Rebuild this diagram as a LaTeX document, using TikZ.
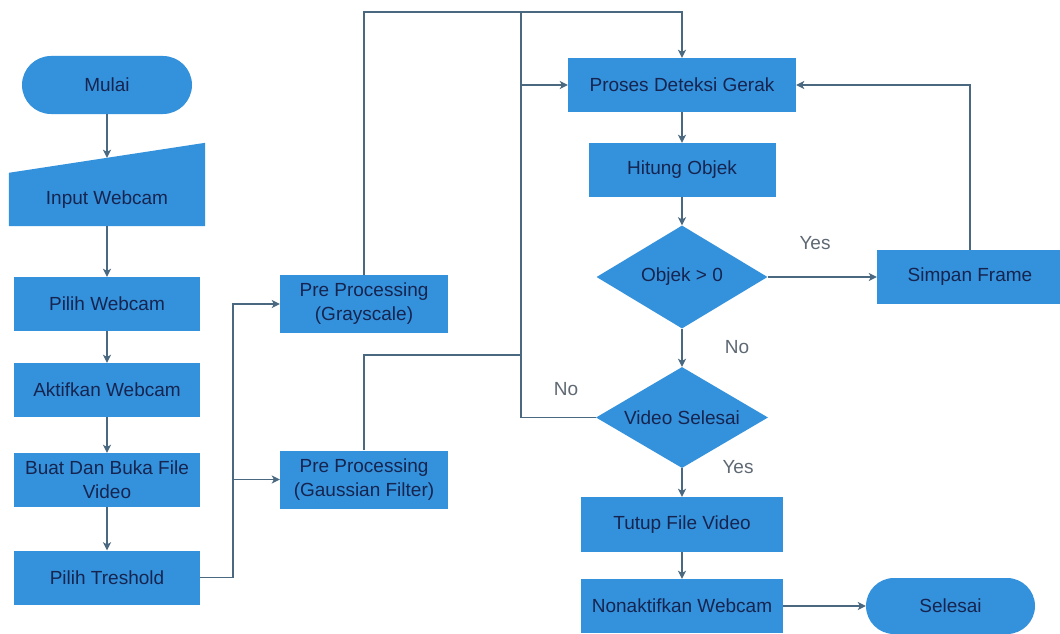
\documentclass[tikz,border=0pt]{standalone}
\usepackage{fontspec}
\setmainfont{Liberation Sans}
\usetikzlibrary{shapes.geometric,arrows.meta,calc,backgrounds}
\definecolor{boxblue}{RGB}{52,146,220}
\definecolor{txtblue}{RGB}{22,36,80}
\definecolor{linec}{RGB}{74,104,128}
\definecolor{lblc}{RGB}{95,105,115}
\begin{document}
\begin{tikzpicture}[x=1pt,y=-1pt,
  every node/.style={font=\fontsize{19}{24}\selectfont, text=txtblue},
  box/.style={rectangle, fill=boxblue, inner sep=0pt, align=center},
  term/.style={rectangle, rounded corners=29pt, fill=boxblue, inner sep=0pt, minimum width=170pt, minimum height=58pt},
  dec/.style={diamond, aspect=1.7, fill=boxblue, inner sep=0pt, align=center},
  conn/.style={draw=linec, line width=1.4pt},
  arr/.style={conn, -{Stealth[length=8pt,width=8pt,inset=2pt]}},
  lbl/.style={text=lblc}
]
\useasboundingbox (0,0) rectangle (1060,634);
% nodes
\node[term] (mulai) at (107,85) {Mulai};
\node[minimum width=196pt, minimum height=53pt, inner sep=0pt] (input) at (107,199.5) {Input Webcam};
\begin{pgfonlayer}{background}
\fill[white] (0,0) rectangle (1060,634);
\fill[boxblue] (input.south west) -- (input.south east) -- ($(input.north east)+(0,-30)$) -- (input.north west) -- cycle;
\end{pgfonlayer}
\coordinate (inTop) at ($(input.north)+(0,-15)$);
\node[box, minimum width=186pt, minimum height=54pt] (pilih) at (107,304) {Pilih Webcam};
\node[box, minimum width=186pt, minimum height=54pt] (aktif) at (107,390) {Aktifkan Webcam};
\node[box, minimum width=186pt, minimum height=54pt] (buat) at (107,480) {Buat Dan Buka File\\Video};
\node[box, minimum width=186pt, minimum height=54pt] (tresh) at (107,577.5) {Pilih Treshold};
\node[box, minimum width=168pt, minimum height=58pt] (gray) at (364,304) {Pre Processing\\(Grayscale)};
\node[box, minimum width=168pt, minimum height=58pt] (gauss) at (364,479.5) {Pre Processing\\(Gaussian Filter)};
\node[box, minimum width=228pt, minimum height=54pt] (proses) at (682,85) {Proses Deteksi Gerak};
\node[box, minimum width=187pt, minimum height=54pt] (hitung) at (682,170) {Hitung Objek};
\node[dec, minimum width=171pt, minimum height=103pt] (objek) at (682,277) {Objek > 0};
\node[box, minimum width=186pt, minimum height=54pt] (simpan) at (970,277) {Simpan Frame};
\node[dec, minimum width=172pt, minimum height=101pt] (video) at (682,417.5) {Video Selesai};
\node[box, minimum width=202pt, minimum height=55pt] (tutup) at (682,524.5) {Tutup File Video};
\node[box, minimum width=202pt, minimum height=54pt] (nonak) at (682,606) {Nonaktifkan Webcam};
\node[term, minimum width=169pt, minimum height=56pt, rounded corners=28pt] (selesai) at (950.5,606) {Selesai};
% labels
\node[lbl] (yes1) at (815,243) {Yes};
\node[lbl] (no1) at (737,347) {No};
\node[lbl] (no2) at (566,389) {No};
\node[lbl] (yes2) at (738,467) {Yes};
% connectors
\draw[arr] (mulai.south) -- (inTop);
\draw[arr] (input.south) -- (pilih.north);
\draw[arr] (pilih.south) -- (aktif.north);
\draw[arr] (aktif.south) -- (buat.north);
\draw[arr] (buat.south) -- (tresh.north);
\coordinate (jx) at (233,577.5);
\draw[conn] (tresh.east) -- (jx);
\draw[arr] (jx) |- (gray.west);
\draw[arr] (jx |- gauss.west) -- (gauss.west);
\coordinate (topy) at (0,12);
\draw[arr] (gray.north) -- (gray.north |- topy) -| (proses.north);
\coordinate (bus) at (521,12);
\draw[conn] (bus) -- (bus |- video.west) -- (video.west);
\draw[arr] (bus |- proses.west) -- (proses.west);
\coordinate (gy) at (0,355);
\draw[conn] (gauss.north) -- (gauss.north |- gy) -- (bus |- gy);
\draw[arr] (proses.south) -- (hitung.north);
\draw[arr] (hitung.south) -- (objek.north);
\draw[arr] (objek.east) -- (simpan.west);
\draw[arr] (simpan.north) |- (proses.east);
\draw[arr] (objek.south) -- (video.north);
\draw[arr] (video.south) -- (tutup.north);
\draw[arr] (tutup.south) -- (nonak.north);
\draw[arr] (nonak.east) -- (selesai.west);
\end{tikzpicture}
\end{document}
